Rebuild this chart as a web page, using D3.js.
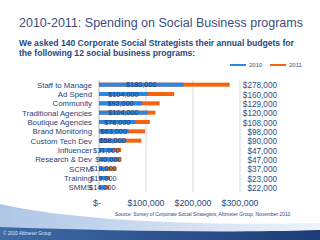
<!DOCTYPE html>
<html>
<head>
<meta charset="utf-8">
<script src="https://cdn.jsdelivr.net/npm/d3@7"></script>
<style>
  html, body { margin: 0; padding: 0; background: #fff; }
  svg { display: block; font-family: "Liberation Sans", Arial, sans-serif; }
</style>
</head>
<body>
<svg id="chart" width="320" height="240"></svg>
<script>
// budgets per program
const categories = ['Staff to Manage', 'Ad Spend', 'Community', 'Traditional Agencies',
  'Boutique Agencies', 'Brand Monitoring', 'Custom Tech Dev', 'Influencer',
  'Research & Dev', 'SCRM', 'Training', 'SMMS'];
const spend2010 = [180000, 104000, 92000, 104000, 78000, 63000, 58000, 31000, 40000, 19000, 19000, 14000];
const spend2011 = [278000, 160000, 129000, 120000, 108000, 98000, 90000, 47000, 47000, 37000, 23000, 22000];
const xTicks = [0, 100000, 200000, 300000];
const seriesNames = ['2010', '2011'];

const blue = '#2b87e3', orange = '#f4640f', navy = '#1f3f7a';
const svg = d3.select('#chart');
const money = d3.format('$,');

// background swoosh at the bottom
const defs = svg.append('defs');
const g1 = defs.append('linearGradient').attr('id', 'lite');
g1.append('stop').attr('offset', 0).attr('stop-color', '#aec6e6');
g1.append('stop').attr('offset', 1).attr('stop-color', '#eef3fa');
const g2 = defs.append('linearGradient').attr('id', 'dark');
g2.append('stop').attr('offset', 0).attr('stop-color', '#3e6aa6');
g2.append('stop').attr('offset', 1).attr('stop-color', '#1c3d78');
svg.append('path').attr('d', 'M0,204 C70,220 190,226 320,223 L320,240 L0,240 Z').attr('fill', 'url(#lite)');
svg.append('path').attr('d', 'M0,227 C110,231 230,233 320,230 L320,240 L0,240 Z').attr('fill', 'url(#dark)');
svg.append('text').attr('x', 3).attr('y', 235).attr('font-size', 4.6).attr('fill', '#dfe8f5')
  .text('© 2010 Altimeter Group');

// titles
svg.append('text').attr('x', 19).attr('y', 27).attr('font-size', 12.5).attr('fill', '#3d4d7e')
  .text('2010-2011: Spending on Social Business programs');
svg.append('text').attr('x', 19).attr('y', 45.5).attr('font-size', 8.6).attr('font-weight', 'bold')
  .attr('fill', '#1f497d').text('We asked 140 Corporate Social Strategists their annual budgets for');
svg.append('text').attr('x', 19).attr('y', 55.5).attr('font-size', 8.6).attr('font-weight', 'bold')
  .attr('fill', '#1f497d').text('the following 12 social business programs:');

// legend
const legend = svg.append('g').selectAll('g').data(seriesNames).enter().append('g')
  .attr('transform', (d, i) => `translate(${230 + i * 40}, 65)`);
legend.append('line').attr('x1', 0).attr('x2', 16).attr('stroke-width', 2)
  .attr('stroke', (d, i) => i ? orange : blue);
legend.append('text').attr('x', 19).attr('y', 2.2).attr('font-size', 6).attr('fill', '#44546f').text(d => d);

// scales
const x = d3.scaleLinear().domain([0, 300000]).range([99, 240]);
const y = d3.scaleBand().domain(categories).range([80, 192]);
const barH = 4;

// gridlines
svg.append('g').selectAll('line').data(xTicks).enter().append('line')
  .attr('x1', d => x(d)).attr('x2', d => x(d)).attr('y1', 80).attr('y2', 192)
  .attr('stroke', d => d === 0 ? '#a8a8a8' : '#cfcfcf').attr('stroke-width', 0.8);

// x axis labels
svg.append('g').selectAll('text').data(xTicks).enter().append('text')
  .attr('x', d => x(d) - (d === 0 ? 2 : 0)).attr('y', 205.5).attr('text-anchor', 'middle')
  .attr('font-size', 8.9).attr('fill', '#2a4a80')
  .text(d => d === 0 ? '$-' : money(d));

// category labels
svg.append('g').selectAll('text').data(categories).enter().append('text')
  .attr('x', 92).attr('y', d => y(d) + y.bandwidth() / 2 + 3)
  .attr('text-anchor', 'end').attr('font-size', 7.8).attr('fill', navy).text(d => d);

// bars: 2011 behind, 2010 on top
const rows = categories.map((c, i) => ({ c, v10: spend2010[i], v11: spend2011[i] }));
svg.append('g').selectAll('rect').data(rows).enter().append('rect')
  .attr('x', x(0)).attr('y', d => y(d.c) + y.bandwidth() / 2 - barH / 2)
  .attr('width', d => x(d.v11) - x(0)).attr('height', barH).attr('fill', orange);
svg.append('g').selectAll('rect').data(rows).enter().append('rect')
  .attr('x', x(0)).attr('y', d => y(d.c) + y.bandwidth() / 2 - barH / 2)
  .attr('width', d => x(d.v10) - x(0)).attr('height', barH).attr('fill', blue);

// 2010 labels centred on the blue bar
svg.append('g').selectAll('text').data(rows).enter().append('text')
  .attr('x', d => (x(0) + x(d.v10)) / 2).attr('y', d => y(d.c) + y.bandwidth() / 2 + 2.7)
  .attr('text-anchor', 'middle').attr('font-size', 7.3).attr('fill', '#1a3a72')
  .text(d => money(d.v10));

// 2011 totals on the right
svg.append('g').selectAll('text').data(rows).enter().append('text')
  .attr('x', 277).attr('y', d => y(d.c) + y.bandwidth() / 2 + 3.6)
  .attr('text-anchor', 'end').attr('font-size', 8.2).attr('fill', '#2c4f86')
  .text(d => money(d.v11));

// source note
svg.append('text').attr('x', 115).attr('y', 215.5).attr('font-size', 4.9).attr('fill', '#2a4a80')
  .text('Source: Survey of Corporate Social Strategists, Altimeter Group, November 2010');
</script>
</body>
</html>
